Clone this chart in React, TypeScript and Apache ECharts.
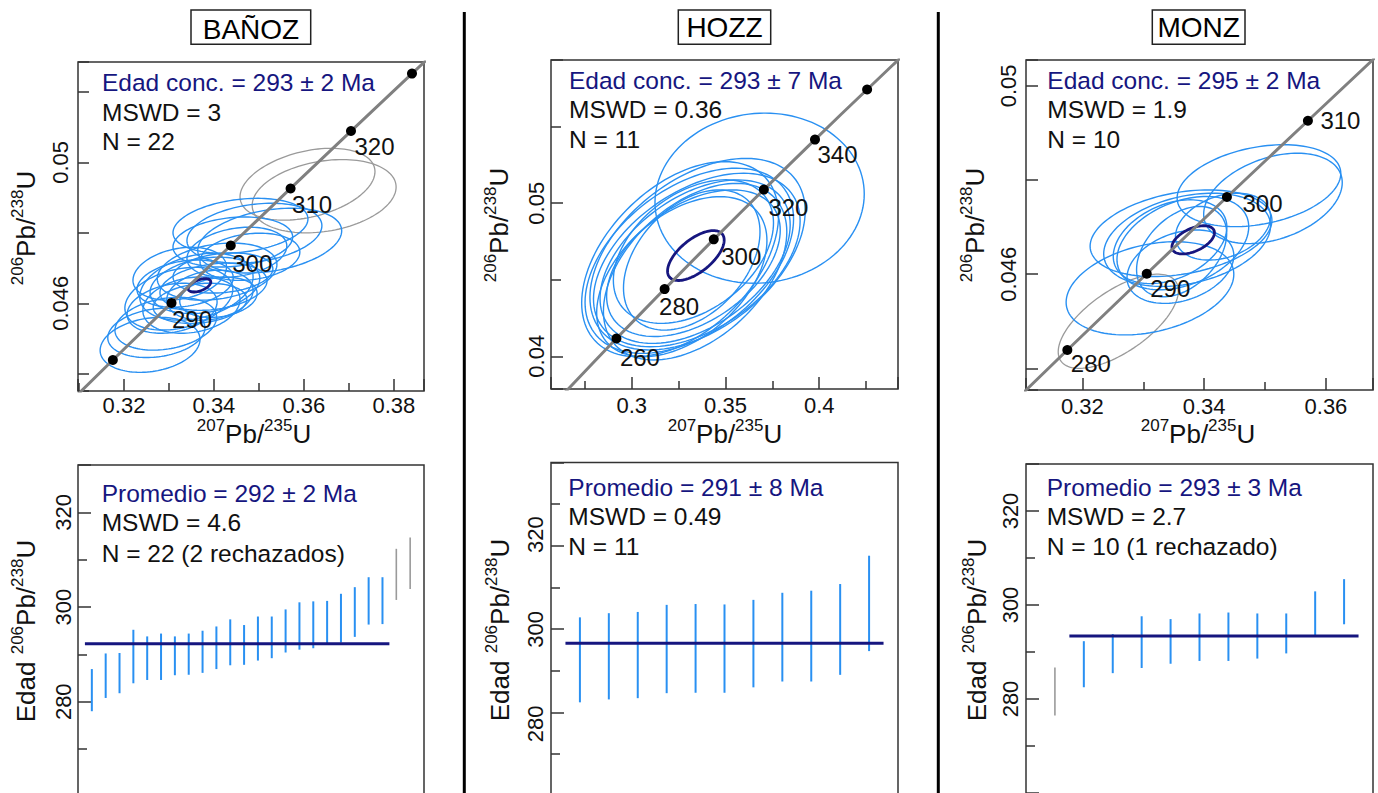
import React, { useEffect, useRef } from "react";
import * as echarts from "echarts";

// ---------- Concordia reference curve ----------
const CONC_AGES = [230, 240, 250, 260, 270, 280, 290, 300, 310, 320, 330, 340, 350, 360, 370, 380];
const CONC_X = [0.25422, 0.26664, 0.27917, 0.29183, 0.30462, 0.31753, 0.33057, 0.34374, 0.35704, 0.37047, 0.38403, 0.39773, 0.41156, 0.42553, 0.43964, 0.45389];
const CONC_Y = [0.03632, 0.03793, 0.03954, 0.04116, 0.04277, 0.04439, 0.04601, 0.04764, 0.04926, 0.05089, 0.05252, 0.05416, 0.0558, 0.05743, 0.05908, 0.06072];

// ---------- Panel titles / stats ----------
const SAMPLES = ["BAÑOZ", "HOZZ", "MONZ"];
const CONC_TEXT = ["Edad conc. = 293 ± 2 Ma", "Edad conc. = 293 ± 7 Ma", "Edad conc. = 295 ± 2 Ma"];
const CONC_MSWD = ["MSWD = 3", "MSWD = 0.36", "MSWD = 1.9"];
const CONC_N = ["N = 22", "N = 11", "N = 10"];
const AVG_TEXT = ["Promedio = 292 ± 2 Ma", "Promedio = 291 ± 8 Ma", "Promedio = 293 ± 3 Ma"];
const AVG_MSWD = ["MSWD = 4.6", "MSWD = 0.49", "MSWD = 2.7"];
const AVG_N = ["N = 22 (2 rechazados)", "N = 11", "N = 10 (1 rechazado)"];

// ---------- Tick labels ----------
const P1_XTICKS = [0.32, 0.34, 0.36, 0.38];
const P1_YTICKS = [0.046, 0.05];
const P2_XTICKS = [0.3, 0.35, 0.4];
const P2_YTICKS = [0.04, 0.05];
const P3_XTICKS = [0.32, 0.34, 0.36];
const P3_YTICKS = [0.046, 0.05];
const AGE_TICKS = [280, 300, 320];

// ---------- Concordia age markers ----------
const P1_DOT_AGES = [280, 290, 300, 310, 320, 330];
const P1_LABEL_AGES = [290, 300, 310, 320];
const P2_DOT_AGES = [260, 280, 300, 320, 340, 360];
const P2_LABEL_AGES = [260, 280, 300, 320, 340];
const P3_DOT_AGES = [280, 290, 300, 310];
const P3_LABEL_AGES = [280, 290, 300, 310];

// ---------- Error ellipses: [207Pb/235U, 206Pb/238U, sx, sy, rho] ----------
const P1_ELLIPSES = [
  [0.3459, 0.0482, 0.015, 0.00078, 0.25],
  [0.349, 0.04799, 0.015, 0.00085, 0.25],
  [0.3524, 0.04778, 0.016, 0.00092, 0.3],
  [0.3442, 0.04774, 0.0133, 0.00071, 0.2],
  [0.3451, 0.04745, 0.0111, 0.00071, 0.25],
  [0.348, 0.04732, 0.0111, 0.00067, 0.2],
  [0.3322, 0.04613, 0.012, 0.00089, 0.3],
  [0.3361, 0.04647, 0.0126, 0.00095, 0.3],
  [0.338, 0.04651, 0.0122, 0.0008, 0.25],
  [0.3407, 0.0469, 0.0133, 0.00081, 0.25],
  [0.335, 0.04595, 0.0108, 0.0008, 0.2],
  [0.3399, 0.04647, 0.0119, 0.00067, 0.25],
  [0.3391, 0.04623, 0.0096, 0.00071, 0.2],
  [0.3336, 0.04656, 0.0107, 0.00067, 0.25],
  [0.342, 0.04686, 0.0111, 0.00057, 0.2],
  [0.3369, 0.046, 0.0104, 0.00057, 0.2],
  [0.3307, 0.04586, 0.01, 0.00071, 0.25],
  [0.341, 0.04617, 0.0086, 0.00057, 0.2],
  [0.3324, 0.04684, 0.0104, 0.00075, 0.25],
  [0.3258, 0.04482, 0.0111, 0.00078, 0.2],
  [0.3272, 0.04516, 0.0108, 0.0007, 0.2],
  [0.3293, 0.04542, 0.0113, 0.00075, 0.25],
];
const P1_REJECTED = [
  [0.3608, 0.04938, 0.015, 0.00102, 0.35],
  [0.3645, 0.04904, 0.016, 0.00104, 0.25],
];
const P1_MEAN = [[0.3368, 0.04651, 0.0025, 0.00019, 0.5]];

const P2_ELLIPSES = [
  [0.3682, 0.05033, 0.0558, 0.00556, 0.05],
  [0.3258, 0.04635, 0.0525, 0.00637, 0.45],
  [0.3307, 0.04624, 0.0556, 0.00605, 0.45],
  [0.3351, 0.04667, 0.0574, 0.00626, 0.45],
  [0.3347, 0.04629, 0.0551, 0.00567, 0.45],
  [0.3338, 0.04618, 0.0507, 0.00534, 0.45],
  [0.3329, 0.04608, 0.0463, 0.00479, 0.45],
  [0.3329, 0.04684, 0.0427, 0.00469, 0.4],
  [0.332, 0.04629, 0.0364, 0.00458, 0.4],
  [0.3267, 0.0452, 0.0454, 0.00523, 0.45],
  [0.3338, 0.04553, 0.0489, 0.00577, 0.45],
];
const P2_MEAN = [[0.3342, 0.04658, 0.0151, 0.00163, 0.62]];

const P3_ELLIPSES = [
  [0.3311, 0.0457, 0.01377, 0.00099, 0.3],
  [0.349, 0.04788, 0.01344, 0.00087, 0.3],
  [0.3513, 0.04761, 0.01138, 0.00096, 0.35],
  [0.3362, 0.04687, 0.01493, 0.00092, 0.3],
  [0.3372, 0.04673, 0.0137, 0.00099, 0.3],
  [0.3365, 0.04666, 0.01082, 0.00099, 0.35],
  [0.3361, 0.04616, 0.00877, 0.00078, 0.3],
  [0.3363, 0.04648, 0.0074, 0.00096, 0.4],
  [0.3431, 0.04701, 0.00781, 0.00071, 0.3],
  [0.3344, 0.04669, 0.00933, 0.00089, 0.35],
];
const P3_REJECTED = [[0.3259, 0.045, 0.00987, 0.001, 0.65]];
const P3_MEAN = [[0.3382, 0.04673, 0.00349, 0.0003, 0.5]];

// ---------- Weighted-mean 206Pb/238U ages (Ma): lower / upper bar ends ----------
const P4_LO = [278.0, 280.8, 281.8, 283.9, 284.6, 284.6, 285.6, 285.7, 286.1, 286.9, 287.7, 287.8, 288.7, 289.2, 290.4, 291.0, 291.3, 292.0, 292.5, 293.7, 296.3, 296.4, 301.5, 303.8];
const P4_HI = [286.9, 290.2, 290.3, 295.2, 293.8, 294.4, 293.8, 294.4, 295.0, 295.9, 297.4, 296.2, 298.0, 298.0, 299.5, 301.0, 301.2, 301.3, 302.8, 304.2, 306.3, 306.3, 312.3, 314.7];
const P4_REJECTED_IDX = [23, 24];
const P4_MEAN = 292.25;
const P4_MEAN_SPAN = [0.5, 22.5];

const P5_LO = [282.4, 283.1, 283.4, 284.6, 284.7, 284.7, 286.0, 287.4, 287.4, 289.0, 294.7];
const P5_HI = [302.8, 303.8, 304.1, 305.8, 306.0, 305.9, 307.0, 308.7, 309.2, 310.8, 317.6];
const P5_REJECTED_IDX: number[] = [];
const P5_MEAN = 296.6;
const P5_MEAN_SPAN = [0.5, 11.5];

const P6_LO = [276.5, 282.5, 285.5, 286.6, 287.5, 288.1, 288.1, 288.6, 289.7, 293.6, 295.9];
const P6_HI = [286.7, 292.3, 293.8, 297.6, 297.0, 298.2, 298.4, 298.2, 298.2, 302.9, 305.5];
const P6_REJECTED_IDX = [1];
const P6_MEAN = 293.4;
const P6_MEAN_SPAN = [1.5, 11.5];

// ---------- styles ----------
const FONT = '"Liberation Sans", Arial, Helvetica, sans-serif';
const INK = "#111111";
const NAVY = "#16167f";
const BLUE = "#2990f2";
const GREY = "#9a9a9a";
const FRAME = "#333333";

const tickLabel = (list: number[]) => (v: number) => {
  const hit = list.find((t) => Math.abs(t - v) < 1e-9);
  return hit === undefined ? "" : String(hit);
};

function ellipseSeries(idx: number, data: number[][], color: string, width: number, z: number) {
  return {
    type: "custom",
    xAxisIndex: idx,
    yAxisIndex: idx,
    clip: true,
    silent: true,
    z,
    data,
    encode: { x: 0, y: 1 },
    renderItem: (_p: any, api: any) => {
      const cx = api.value(0), cy = api.value(1), sx = api.value(2), sy = api.value(3), rho = api.value(4);
      const k = Math.sqrt(1 - rho * rho);
      const pts: number[][] = [];
      for (let i = 0; i < 120; i++) {
        const t = (i / 120) * Math.PI * 2;
        pts.push(api.coord([cx + sx * Math.cos(t), cy + sy * (rho * Math.cos(t) + k * Math.sin(t))]));
      }
      return { type: "polygon", shape: { points: pts }, style: { fill: "none", stroke: color, lineWidth: width } };
    },
  };
}

function concordiaSeries(idx: number) {
  return {
    type: "line",
    xAxisIndex: idx,
    yAxisIndex: idx,
    data: CONC_AGES.map((_, i) => [CONC_X[i], CONC_Y[i]]),
    showSymbol: false,
    symbol: "none",
    clip: true,
    silent: true,
    z: 5,
    lineStyle: { color: "#808080", width: 3 },
  };
}

function dotSeries(idx: number, ages: number[], labelAges: number[], offs: Record<number, number[]>) {
  const labelStyle = { fontSize: 24, fontFamily: FONT, color: INK, textBorderWidth: 0, opacity: 1, align: "left", verticalAlign: "top" };
  return {
    type: "scatter",
    xAxisIndex: idx,
    yAxisIndex: idx,
    symbol: "circle",
    symbolSize: 10,
    silent: true,
    z: 10,
    itemStyle: { color: "#000", opacity: 1 },
    label: labelStyle,
    data: ages.map((a) => {
      const i = CONC_AGES.indexOf(a);
      const o = offs[a] || [0, 0];
      return {
        value: [CONC_X[i], CONC_Y[i], a],
        label: { ...labelStyle, show: labelAges.includes(a), position: [o[0] + 2.5, o[1] - 0.5], formatter: String(a) },
      };
    }),
  };
}

function barSeries(idx: number, lo: number[], hi: number[], pick: (i: number) => boolean, color: string, width: number) {
  const data: number[][] = [];
  lo.forEach((l, i) => {
    if (pick(i + 1)) data.push([i + 1, l, hi[i]]);
  });
  return {
    type: "custom",
    xAxisIndex: idx,
    yAxisIndex: idx,
    silent: true,
    z: 3,
    data,
    encode: { x: 0, y: [1, 2] },
    renderItem: (_p: any, api: any) => {
      const a = api.coord([api.value(0), api.value(1)]);
      const b = api.coord([api.value(0), api.value(2)]);
      return { type: "line", shape: { x1: a[0], y1: a[1], x2: b[0], y2: b[1] }, style: { stroke: color, lineWidth: width } };
    },
  };
}

function meanLine(idx: number, span: number[], v: number) {
  return {
    type: "line",
    xAxisIndex: idx,
    yAxisIndex: idx,
    data: [[span[0], v], [span[1], v]],
    symbol: "none",
    silent: true,
    z: 6,
    lineStyle: { color: NAVY, width: 3 },
  };
}

const tickStyle = { color: FRAME, width: 1.5 };

function valueAxis(opts: any) {
  const { grid, min, max, step, ticks, margin, minor, len, minorLen, rotate, labels = true, position } = opts;
  return {
    type: "value",
    gridIndex: grid,
    position,
    min,
    max,
    minInterval: step,
    maxInterval: step,
    splitLine: { show: false },
    minorSplitLine: { show: false },
    axisLine: { show: false },
    axisTick: { show: true, inside: true, length: len, lineStyle: tickStyle },
    minorTick: { show: !!minor, splitNumber: 2, length: minorLen, lineStyle: tickStyle },
    axisLabel: {
      show: labels,
      rotate: rotate || 0,
      margin,
      fontSize: 22,
      fontFamily: FONT,
      color: INK,
      formatter: tickLabel(ticks),
    },
  };
}

function text(x: number, y: number, str: string, color: string, size = 24.5, align = "left") {
  return {
    type: "text",
    x,
    y,
    silent: true,
    style: {
      text: str,
      fill: color,
      fontSize: size,
      fontFamily: FONT,
      align,
      textAlign: align,
      verticalAlign: "middle",
      textVerticalAlign: "middle",
    },
  };
}

function isoTitle(x: number, y: number, rich: string, rotated: boolean) {
  return {
    type: "text",
    x,
    y,
    rotation: rotated ? Math.PI / 2 : 0,
    silent: true,
    style: {
      text: rich,
      fill: INK,
      fontFamily: FONT,
      fontSize: 26,
      align: "center",
      textAlign: "center",
      verticalAlign: "middle",
      textVerticalAlign: "middle",
      rich: {
        m: { fontSize: 26, lineHeight: 34, fontFamily: FONT, fill: INK },
        s: { fontSize: 17, lineHeight: 17, fontFamily: FONT, fill: INK, verticalAlign: "top" },
      },
    },
  };
}

const X_TITLE = "{s|207}{m|Pb/}{s|235}{m|U}";
const Y_TITLE = "{s|206}{m|Pb/}{s|238}{m|U}";
const AGE_TITLE = "{m|Edad }{s|206}{m|Pb/}{s|238}{m|U}";

function buildOption() {
  const gridBase = { show: true, borderColor: FRAME, borderWidth: 1.5, backgroundColor: "transparent", containLabel: false, outerBoundsMode: "none" };
  const grid = [
    { ...gridBase, left: 78, top: 62, width: 346, height: 329 },
    { ...gridBase, left: 551, top: 60, width: 347, height: 329 },
    { ...gridBase, left: 1026, top: 60, width: 347, height: 330 },
    { ...gridBase, left: 78, top: 465, width: 346, height: 378.8 },
    { ...gridBase, left: 551, top: 462.4, width: 347, height: 374.9 },
    { ...gridBase, left: 1026, top: 464, width: 347, height: 376 },
  ];

  const xAxis = [
    valueAxis({ grid: 0, min: 0.30978, max: 0.3867, step: 0.02, ticks: P1_XTICKS, margin: 3, minor: true, len: 12, minorLen: 8 }),
    valueAxis({ grid: 1, min: 0.25694, max: 0.442, step: 0.05, ticks: P2_XTICKS, margin: 5, minor: true, len: 12, minorLen: 8 }),
    valueAxis({ grid: 2, min: 0.31074, max: 0.36773, step: 0.02, ticks: P3_XTICKS, margin: 5, minor: true, len: 12, minorLen: 8 }),
    { type: "value", gridIndex: 3, min: 0, max: P4_LO.length + 1, show: false },
    { type: "value", gridIndex: 4, min: 0, max: P5_LO.length + 1, show: false },
    { type: "value", gridIndex: 5, min: 0, max: P6_LO.length + 1, show: false },
  ];

  const yAxis = [
    valueAxis({ grid: 0, min: 0.04351, max: 0.05285, step: 0.002, ticks: P1_YTICKS, margin: 7, minor: false, len: 11, rotate: 90 }),
    valueAxis({ grid: 1, min: 0.03786, max: 0.05936, step: 0.01, ticks: P2_YTICKS, margin: 4, minor: true, len: 12, minorLen: 10, rotate: 90 }),
    valueAxis({ grid: 2, min: 0.04354, max: 0.05055, step: 0.002, ticks: P3_YTICKS, margin: 7, minor: false, len: 12, rotate: 90 }),
    valueAxis({ grid: 3, min: 250, max: 330, step: 20, ticks: AGE_TICKS, margin: 4, minor: true, len: 13, minorLen: 9, rotate: 90 }),
    valueAxis({ grid: 4, min: 250, max: 340, step: 20, ticks: AGE_TICKS, margin: 5, minor: true, len: 13, minorLen: 9, rotate: 90, labels: false, position: "left" }),
    valueAxis({ grid: 5, min: 250, max: 330, step: 20, ticks: AGE_TICKS, margin: 5, minor: true, len: 13, minorLen: 9, rotate: 90 }),
    {
      ...valueAxis({ grid: 4, min: 256.05, max: 335.27, step: 20, ticks: AGE_TICKS, margin: 5, minor: false, len: 0, rotate: 90, position: "left" }),
      axisTick: { show: false },
    },
  ];

  const series: any[] = [
    // BAÑOZ concordia
    ellipseSeries(0, P1_REJECTED, GREY, 1.3, 2),
    ellipseSeries(0, P1_ELLIPSES, BLUE, 1.4, 3),
    ellipseSeries(0, P1_MEAN, NAVY, 2.8, 4),
    concordiaSeries(0),
    dotSeries(0, P1_DOT_AGES, P1_LABEL_AGES, { 290: [3, 10], 300: [4, 11], 310: [4, 10], 320: [6, 9] }),
    // HOZZ concordia
    ellipseSeries(1, P2_ELLIPSES, BLUE, 1.4, 3),
    ellipseSeries(1, P2_MEAN, NAVY, 2.8, 4),
    concordiaSeries(1),
    dotSeries(1, P2_DOT_AGES, P2_LABEL_AGES, { 260: [6, 12], 280: [-3, 11], 300: [10, 11], 320: [7, 11], 340: [5, 8] }),
    // MONZ concordia
    ellipseSeries(2, P3_REJECTED, GREY, 1.3, 2),
    ellipseSeries(2, P3_ELLIPSES, BLUE, 1.4, 3),
    ellipseSeries(2, P3_MEAN, NAVY, 2.8, 4),
    concordiaSeries(2),
    dotSeries(2, P3_DOT_AGES, P3_LABEL_AGES, { 280: [6, 7], 290: [6, 8], 300: [18, 0], 310: [15, -7] }),
    // weighted means
    barSeries(3, P4_LO, P4_HI, (i) => !P4_REJECTED_IDX.includes(i), BLUE, 2),
    barSeries(3, P4_LO, P4_HI, (i) => P4_REJECTED_IDX.includes(i), GREY, 1.6),
    meanLine(3, P4_MEAN_SPAN, P4_MEAN),
    barSeries(4, P5_LO, P5_HI, (i) => !P5_REJECTED_IDX.includes(i), BLUE, 2),
    meanLine(4, P5_MEAN_SPAN, P5_MEAN),
    barSeries(5, P6_LO, P6_HI, (i) => !P6_REJECTED_IDX.includes(i), BLUE, 2),
    barSeries(5, P6_LO, P6_HI, (i) => P6_REJECTED_IDX.includes(i), GREY, 1.6),
    meanLine(5, P6_MEAN_SPAN, P6_MEAN),
  ];

  const titleBoxes = [
    { x: 191, y: 10, w: 119.7, h: 34.3, tx: 251, ty: 29.5 },
    { x: 678.3, y: 10, w: 92.4, h: 34.3, tx: 724.5, ty: 27 },
    { x: 1152.3, y: 10, w: 92.7, h: 34.3, tx: 1198.7, ty: 27 },
  ];
  const statX = [102, 569, 1047.3];
  const statY = [[82.7, 112.3, 141.7], [80, 109, 139], [80, 109, 139]];
  const avgX = [101.7, 568.3, 1046.7];
  const avgY = [[493.3, 522.7, 553.3], [487.3, 516.7, 546.7], [487.3, 516.7, 546.7]];
  const xTitle = [[254, 434], [725, 434], [1198, 434]];
  const yTitle = [[26, 228], [499, 225], [975, 225]];
  const ageTitle = [[26, 631], [500, 630], [977, 630]];

  const graphic: any[] = [
    { type: "line", silent: true, shape: { x1: 464.3, y1: 12, x2: 464.3, y2: 800 }, style: { stroke: "#000", lineWidth: 3 } },
    { type: "line", silent: true, shape: { x1: 938.3, y1: 12, x2: 938.3, y2: 800 }, style: { stroke: "#000", lineWidth: 3 } },
  ];
  SAMPLES.forEach((s, k) => {
    const b = titleBoxes[k];
    graphic.push({ type: "rect", silent: true, shape: { x: b.x, y: b.y, width: b.w, height: b.h }, style: { fill: "#fff", stroke: "#222", lineWidth: 1.5 } });
    graphic.push(text(b.tx, b.ty, s, "#000", 28, "center"));
    graphic.push(text(statX[k], statY[k][0], CONC_TEXT[k], NAVY));
    graphic.push(text(statX[k], statY[k][1], CONC_MSWD[k], INK));
    graphic.push(text(statX[k], statY[k][2], CONC_N[k], INK));
    graphic.push(text(avgX[k], avgY[k][0], AVG_TEXT[k], NAVY));
    graphic.push(text(avgX[k], avgY[k][1], AVG_MSWD[k], INK));
    graphic.push(text(avgX[k], avgY[k][2], AVG_N[k], INK));
    graphic.push(isoTitle(xTitle[k][0], xTitle[k][1], X_TITLE, false));
    graphic.push(isoTitle(yTitle[k][0], yTitle[k][1], Y_TITLE, true));
    graphic.push(isoTitle(ageTitle[k][0], ageTitle[k][1], AGE_TITLE, true));
  });

  return {
    animation: false,
    backgroundColor: "#ffffff",
    textStyle: { fontFamily: FONT },
    grid,
    xAxis,
    yAxis,
    series,
    graphic,
  };
}

export default function App() {
  const ref = useRef<HTMLDivElement>(null);
  useEffect(() => {
    document.body.style.margin = "0";
    if (!ref.current) return;
    const chart = echarts.init(ref.current, null, { renderer: "svg" });
    chart.setOption(buildOption() as any);
    return () => chart.dispose();
  }, []);
  return <div ref={ref} style={{ width: 1378, height: 793 }} />;
}
